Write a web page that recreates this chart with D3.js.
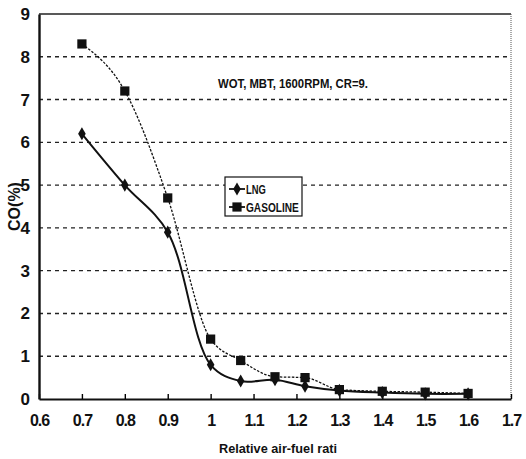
<!DOCTYPE html>
<html>
<head>
<meta charset="utf-8">
<script src="https://cdn.jsdelivr.net/npm/d3@7"></script>
<style>
  body { margin: 0; background: #fff; }
  svg text { font-family: "Liberation Sans", Arial, sans-serif; font-weight: bold; fill: #111; }
</style>
</head>
<body>
<svg id="chart" width="526" height="459"></svg>
<script>
// data
const ratioLng = [0.7, 0.8, 0.9, 1.0, 1.07, 1.15, 1.22, 1.3, 1.4, 1.5, 1.6];
const coLng = [6.2, 5.0, 3.9, 0.8, 0.42, 0.45, 0.3, 0.2, 0.15, 0.12, 0.12];
const ratioGas = [0.7, 0.8, 0.9, 1.0, 1.07, 1.15, 1.22, 1.3, 1.4, 1.5, 1.6];
const coGas = [8.3, 7.2, 4.7, 1.4, 0.9, 0.52, 0.5, 0.22, 0.18, 0.16, 0.13];
const xTicks = [0.6, 0.7, 0.8, 0.9, 1.0, 1.1, 1.2, 1.3, 1.4, 1.5, 1.6, 1.7];
const yTicks = [0, 1, 2, 3, 4, 5, 6, 7, 8, 9];
const seriesNames = ["LNG", "GASOLINE"];
const note = "WOT, MBT, 1600RPM, CR=9.";

const margin = { top: 14, right: 15, bottom: 60, left: 39 };
const width = 526 - margin.left - margin.right;
const height = 459 - margin.top - margin.bottom;

const svg = d3.select("#chart")
  .append("g")
  .attr("transform", `translate(${margin.left},${margin.top})`);

const x = d3.scaleLinear().domain([0.6, 1.7]).range([0, width]);
const y = d3.scaleLinear().domain([0, 9]).range([height, 0]);

// dashed grid lines
svg.selectAll(".grid")
  .data(yTicks.filter(d => d > 0 && d < 9))
  .enter()
  .append("line")
  .attr("x1", 0).attr("x2", width)
  .attr("y1", d => y(d)).attr("y2", d => y(d))
  .style("stroke", "#222")
  .style("stroke-width", 1.4)
  .style("stroke-dasharray", "4,4");

// frame: top solid, right thin
svg.append("line").attr("x1", 0).attr("x2", width).attr("y1", y(9)).attr("y2", y(9))
  .style("stroke", "#222").style("stroke-width", 1.6);
svg.append("line").attr("x1", width).attr("x2", width).attr("y1", y(9)).attr("y2", height)
  .style("stroke", "#555").style("stroke-width", 1).style("stroke-dasharray", "1,1");

// axes
const xAxis = svg.append("g")
  .attr("transform", `translate(0,${height})`)
  .call(d3.axisBottom(x).tickValues(xTicks).tickFormat(d => d === 1 ? "1" : d3.format(".1f")(d))
    .tickSizeInner(-5).tickSizeOuter(0).tickPadding(16));
xAxis.select("path.domain").style("stroke-width", 2.2).style("stroke", "#111");
xAxis.selectAll(".tick line").style("stroke-width", 1.4);
xAxis.selectAll(".tick text").style("font-size", "16px").style("letter-spacing", "-1px");

const yAxis = svg.append("g")
  .call(d3.axisLeft(y).tickValues(yTicks).tickSize(0).tickPadding(9));
yAxis.select("path.domain").style("stroke-width", 2.4).style("stroke", "#111");
yAxis.selectAll(".tick text").style("font-size", "17px");

// axis titles
svg.append("text")
  .attr("transform", `translate(${-25},${y(4.5)}) rotate(-90)`)
  .attr("text-anchor", "middle")
  .attr("dy", "0.35em")
  .style("font-size", "16px")
  .text("CO(%)");

svg.append("text")
  .attr("x", 180).attr("y", height + 54)
  .attr("textLength", 118)
  .attr("lengthAdjust", "spacingAndGlyphs")
  .style("font-size", "13px")
  .text("Relative air-fuel rati");

svg.append("text")
  .attr("x", 179).attr("y", 74)
  .attr("textLength", 150)
  .attr("lengthAdjust", "spacingAndGlyphs")
  .style("font-size", "12px")
  .text(note);

// lines
const lngPts = ratioLng.map((r, i) => [r, coLng[i]]);
const gasPts = ratioGas.map((r, i) => [r, coGas[i]]);
const lineLng = d3.line().x(d => x(d[0])).y(d => y(d[1])).curve(d3.curveCatmullRom.alpha(0.5));
const lineGas = d3.line().x(d => x(d[0])).y(d => y(d[1])).curve(d3.curveMonotoneX);

svg.append("path").datum(gasPts).attr("d", lineGas)
  .style("fill", "none").style("stroke", "#111").style("stroke-width", 1.3)
  .style("stroke-dasharray", "2.5,1.5");
svg.append("path").datum(lngPts).attr("d", lineLng)
  .style("fill", "none").style("stroke", "#111").style("stroke-width", 2);

const diamond = d3.symbol().type(d3.symbolDiamond).size(50);
const square = d3.symbol().type(d3.symbolSquare).size(85);

svg.selectAll(".lng")
  .data(lngPts).enter().append("path")
  .attr("d", diamond)
  .attr("transform", d => `translate(${x(d[0])},${y(d[1])})`)
  .style("fill", "#111");
svg.selectAll(".gas")
  .data(gasPts).enter().append("path")
  .attr("d", square)
  .attr("transform", d => `translate(${x(d[0])},${y(d[1])})`)
  .style("fill", "#111");

// legend
const legend = svg.append("g").attr("transform", "translate(186,163)");
legend.append("rect")
  .attr("width", 77).attr("height", 39)
  .style("fill", "#fff").style("stroke", "#111").style("stroke-width", 1.2);
const symbols = [diamond, square];
seriesNames.forEach((name, i) => {
  const g = legend.append("g").attr("transform", `translate(0,${12 + i * 18})`);
  g.append("line").attr("x1", 4).attr("x2", 20)
    .style("stroke", "#111").style("stroke-width", 1.8);
  g.append("path").attr("d", symbols[i]).attr("transform", "translate(12,0)").style("fill", "#111");
  g.append("text").attr("x", 21).attr("dy", "0.35em")
    .attr("textLength", name.length * 6.6)
    .attr("lengthAdjust", "spacingAndGlyphs")
    .style("font-size", "13px")
    .text(name);
});
</script>
</body>
</html>
